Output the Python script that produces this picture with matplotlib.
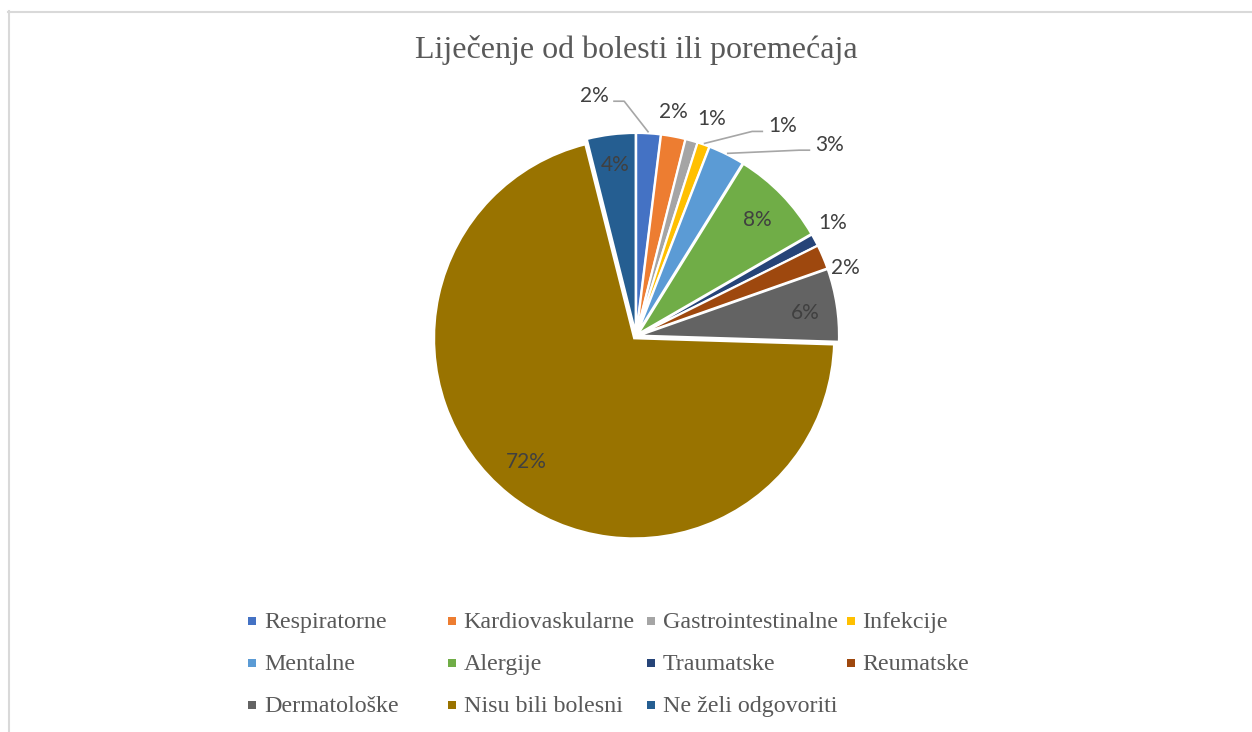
import matplotlib
matplotlib.use("Agg")
import matplotlib.pyplot as plt
import numpy as np
from matplotlib.patches import Rectangle
from matplotlib.lines import Line2D

# ---------------- data ----------------
title = "Liječenje od bolesti ili poremećaja"
categories = ["Respiratorne", "Kardiovaskularne", "Gastrointestinalne", "Infekcije",
              "Mentalne", "Alergije", "Traumatske", "Reumatske",
              "Dermatološke", "Nisu bili bolesni", "Ne želi odgovoriti"]
values = [2, 2, 1, 1, 3, 8, 1, 2, 6, 72, 4]

# ---------------- style ----------------
colors = ["#4472C4", "#ED7D31", "#A5A5A5", "#FFC000", "#5B9BD5", "#70AD47",
          "#264478", "#9E480E", "#636363", "#997300", "#255E91"]
# label layout: (inside?, angle offset deg, radius, leader line?)
label_layout = [
    (False, 13.4, 1.22, True),
    (False, 1.2, 1.135, False),
    (False, -3.4, 1.15, False),
    (False, -15.4, 1.28, True),
    (False, -18.8, 1.36, True),
    (True, -0.5, 0.84, False),
    (False, 1.6, 1.135, False),
    (False, -4.9, 1.10, False),
    (True, -1.0, 0.855, False),
    (True, -2.3, 0.835, False),
    (True, 0, 0.86, False),
]

W, H = 1252, 732
cx, cy, R = 636, 336, 200
fig = plt.figure(figsize=(W / 100, H / 100), dpi=100)
fig.patch.set_facecolor("white")
ax = fig.add_axes([0, 0, 1, 1])
explode = [0.015] * len(values)
wedges, _ = ax.pie(values, colors=colors, startangle=90, counterclock=False,
                   radius=1, explode=explode,
                   wedgeprops=dict(edgecolor="white", linewidth=1.5))
ax.set_xlim(-cx / R, (W - cx) / R)
ax.set_ylim(-(H - cy) / R, cy / R)
ax.axis("off")

lab_font = dict(family="Lato", size=15, color="#404040")
for i, (w, v) in enumerate(zip(wedges, values)):
    inside, dang, r, leader = label_layout[i]
    mid = (w.theta1 + w.theta2) / 2.0
    a = np.deg2rad(mid + dang)
    lx, ly = r * np.cos(a), r * np.sin(a)
    ax.text(lx, ly, f"{v}%", ha="center", va="center", **lab_font)
    if leader:
        am = np.deg2rad(mid)
        sx, sy = 1.02 * np.cos(am), 1.02 * np.sin(am)
        side = -1 if lx < sx else 1  # label to left or right of start
        ex = lx - side * 0.095
        ey = ly - 0.028
        elx = ex - side * 0.055
        ax.plot([sx, elx, ex], [sy, ey, ey], color="#A6A6A6", lw=1.2,
                solid_capstyle="butt")

# title
fig.text(636 / W, 1 - 50 / H, title, ha="center", va="center",
         family="Liberation Serif", size=23, color="#595959")

# legend (Excel-style equal columns)
leg_x0, leg_dx = 252, 199.5
leg_y0, leg_dy = 628, 42
for i, (cat, col) in enumerate(zip(categories, colors)):
    row, c = divmod(i, 4)
    x = leg_x0 + c * leg_dx
    y = leg_y0 + row * leg_dy
    fig.add_artist(Rectangle(((x - 4) / W, 1 - (y - 3) / H), 8 / W, 8 / H,
                             transform=fig.transFigure, facecolor=col,
                             edgecolor="none"))
    fig.text((x + 12) / W, 1 - y / H, cat, ha="left", va="baseline",
             family="Liberation Serif", size=17.3, color="#595959")

# chart border (partially visible)
fig.add_artist(Line2D([8.5 / W, 8.5 / W], [0, 1 - 11 / H], transform=fig.transFigure,
                      color="#D9D9D9", lw=1.5))
fig.add_artist(Line2D([8 / W, 1], [1 - 11.5 / H, 1 - 11.5 / H], transform=fig.transFigure,
                      color="#D9D9D9", lw=1.5))

fig.savefig("out.png", dpi=100, facecolor="white")
